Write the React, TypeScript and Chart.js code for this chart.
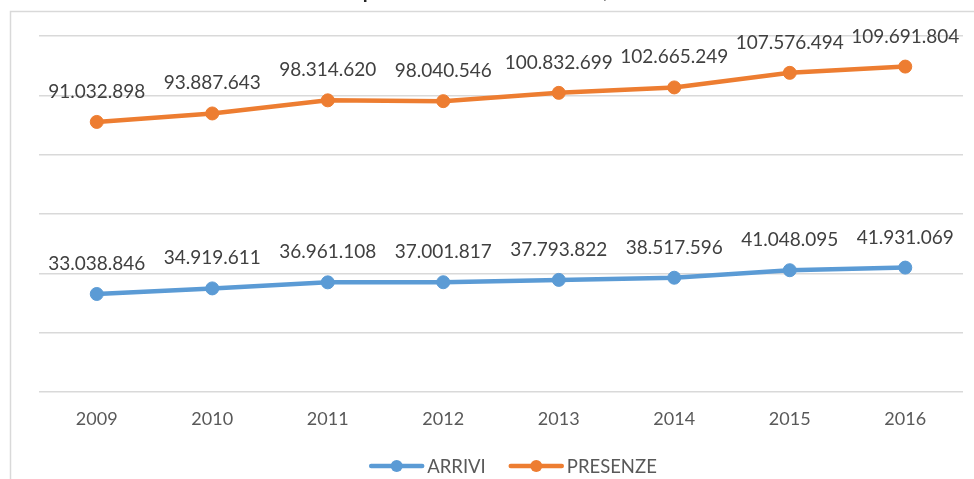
import React, { useEffect, useRef } from "react";
import { Chart, registerables } from "chart.js";

Chart.register(...registerables);

const TITLE = "Arrivi e presenze dei clienti in Italia, 2009-2016";
const years = ["2009", "2010", "2011", "2012", "2013", "2014", "2015", "2016"];
const arrivi = [33038846, 34919611, 36961108, 37001817, 37793822, 38517596, 41048095, 41931069];
const presenze = [91032898, 93887643, 98314620, 98040546, 100832699, 102665249, 107576494, 109691804];
const seriesNames = ["ARRIVI", "PRESENZE"];
const seriesColors = ["#5B9BD5", "#ED7D31"];
const yMin = 0;
const yMax = 120000000;
const yStep = 20000000;

const fmt = (n: number) => String(n).replace(/\B(?=(\d{3})+(?!\d))/g, ".");

const FONT = "Lato, 'Open Sans', sans-serif";

const decorPlugin = {
  id: "decor",
  beforeDraw(chart: any) {
    const ctx = chart.ctx;
    ctx.save();
    ctx.fillStyle = "#ffffff";
    ctx.fillRect(0, 0, chart.width, chart.height);
    ctx.strokeStyle = "#d9d9d9";
    ctx.lineWidth = 1.5;
    ctx.beginPath();
    ctx.moveTo(10.5, chart.height);
    ctx.lineTo(10.5, 11.5);
    ctx.lineTo(chart.width, 11.5);
    ctx.stroke();
    // title (mostly cut off above the visible frame)
    ctx.fillStyle = "#262626";
    ctx.font = "bold 20px " + FONT;
    ctx.textAlign = "center";
    ctx.textBaseline = "alphabetic";
    ctx.fillText(TITLE, 503, -2);
    ctx.restore();
  },
  afterDatasetsDraw(chart: any) {
    const ctx = chart.ctx;
    ctx.save();
    ctx.font = "19px " + FONT;
    ctx.fillStyle = "#404040";
    ctx.textAlign = "center";
    ctx.textBaseline = "alphabetic";
    chart.data.datasets.forEach((ds: any, i: number) => {
      const meta = chart.getDatasetMeta(i);
      meta.data.forEach((pt: any, j: number) => {
        ctx.fillText(fmt(ds.data[j]), pt.x, pt.y - 24);
      });
    });
    // legend
    ctx.font = "18.5px " + FONT;
    ctx.textBaseline = "middle";
    ctx.textAlign = "left";
    const lineLen = 55;
    const gapText = 3;
    const gapItem = 23;
    const widths = seriesNames.map((n) => lineLen + gapText + ctx.measureText(n).width);
    const total = widths.reduce((a, b) => a + b, 0) + gapItem * (widths.length - 1);
    let x = (chart.chartArea.left + chart.chartArea.right) / 2 + 12 - total / 2;
    const y = 466;
    seriesNames.forEach((n, i) => {
      ctx.strokeStyle = seriesColors[i];
      ctx.lineWidth = 4.5;
      ctx.lineCap = "round";
      ctx.beginPath();
      ctx.moveTo(x + 2, y);
      ctx.lineTo(x + lineLen - 2, y);
      ctx.stroke();
      ctx.fillStyle = seriesColors[i];
      ctx.beginPath();
      ctx.arc(x + lineLen / 2, y, 6, 0, Math.PI * 2);
      ctx.fill();
      ctx.fillStyle = "#595959";
      ctx.fillText(n, x + lineLen + gapText, y + 1);
      x += widths[i] + gapItem;
    });
    ctx.restore();
  },
};

export default function App() {
  const ref = useRef<HTMLCanvasElement | null>(null);
  useEffect(() => {
    if (!ref.current) return;
    const chart = new Chart(ref.current, {
      type: "line",
      data: {
        labels: years,
        datasets: [arrivi, presenze].map((d, i) => ({
          label: seriesNames[i],
          data: d,
          borderColor: seriesColors[i],
          backgroundColor: seriesColors[i],
          borderWidth: 4.5,
          pointRadius: 6.5,
          pointBorderWidth: 1,
          pointBackgroundColor: seriesColors[i],
          pointBorderColor: seriesColors[i],
          tension: 0,
        })),
      },
      options: {
        animation: false,
        responsive: false,
        maintainAspectRatio: false,
        layout: { padding: { left: 0, right: 11, top: 36, bottom: 42 } },
        plugins: {
          legend: { display: false },
          title: { display: false },
          tooltip: { enabled: false },
        },
        scales: {
          x: {
            offset: true,
            grid: { display: false, drawTicks: false },
            border: { display: false },
            ticks: { color: "#595959", font: { family: FONT, size: 18 }, padding: 16 },
            afterFit: (s: any) => { s.height = 45; },
          },
          y: {
            min: yMin,
            max: yMax,
            ticks: { display: false, stepSize: yStep },
            grid: { color: "#d9d9d9", lineWidth: 1.5, drawTicks: false },
            border: { display: false },
            afterFit: (s: any) => { s.width = 39; },
          },
        },
      },
      plugins: [decorPlugin],
    });
    return () => chart.destroy();
  }, []);
  return (
    <div style={{ position: "fixed", left: 0, top: 0, width: 974, height: 479 }}>
      <canvas ref={ref} width={974} height={479} style={{ display: "block" }} />
    </div>
  );
}
